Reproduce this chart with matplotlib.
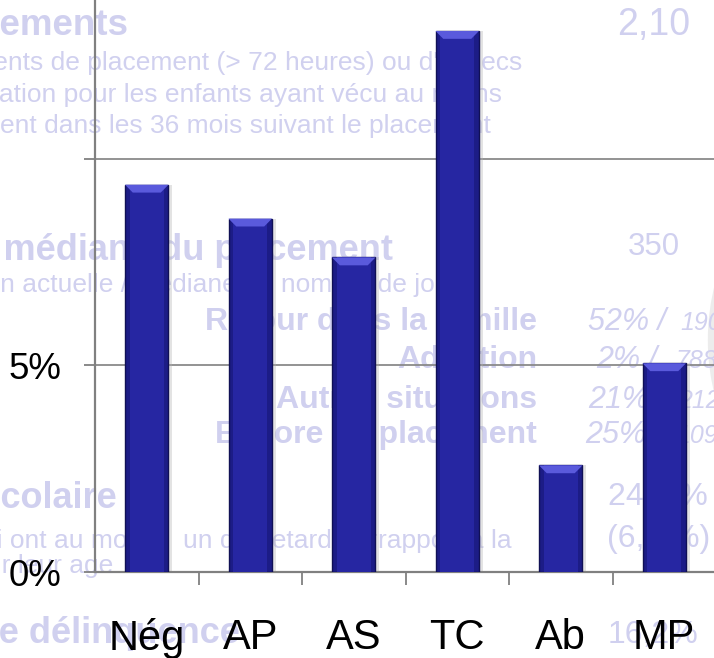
import matplotlib
matplotlib.use("Agg")
import matplotlib.pyplot as plt
from matplotlib.patches import Polygon, Ellipse

plt.rcParams['font.family'] = ['Liberation Sans', 'DejaVu Sans']

categories = ['Nég', 'AP', 'AS', 'TC', 'Ab', 'MP']
values = [9.37, 8.55, 7.61, 13.09, 2.58, 5.05]
y_ticks = [0, 5, 10]
y_tick_labels = ['0%', '5%', '']

W, H = 714, 658
PALE = '#D0D0EF'

# faded text of the slide behind the chart: (x px, baseline px, text, ha, size, weight, style)
back_texts = [
    (129, 35, "Déplacements", 'right', 26.5, 'bold', 'normal'),
    (522, 70, "Nombre moyen d'événements de placement (> 72 heures) ou d'échecs", 'right', 19, 'normal', 'normal'),
    (502, 102, "de réunification pour les enfants ayant vécu au moins", 'right', 19, 'normal', 'normal'),
    (491, 133, "un placement dans les 36 mois suivant le placement", 'right', 19, 'normal', 'normal'),
    (617, 35, "2,10", 'left', 27, 'normal', 'normal'),
    (393, 260, "Durée médiane du placement", 'right', 26, 'bold', 'normal'),
    (628, 255, "350", 'left', 22.5, 'normal', 'normal'),
    (471, 292, "Situation actuelle / médiane du nombre de jours", 'right', 19, 'normal', 'normal'),
    (537, 330, "Retour dans la famille", 'right', 23, 'bold', 'normal'),
    (537, 368, "Adoption", 'right', 23, 'bold', 'normal'),
    (537, 408, "Autres situations", 'right', 23, 'bold', 'normal'),
    (537, 443, "Encore en placement", 'right', 23, 'bold', 'normal'),
    (588, 330, "52% /", 'left', 22, 'normal', 'italic'),
    (680, 330, "190", 'left', 18, 'normal', 'italic'),
    (596, 368, "2% /", 'left', 22, 'normal', 'italic'),
    (675, 368, "788", 'left', 18, 'normal', 'italic'),
    (588, 408, "21% /", 'left', 22, 'normal', 'italic'),
    (678, 408, "212", 'left', 18, 'normal', 'italic'),
    (585, 443, "25% /", 'left', 22, 'normal', 'italic'),
    (676, 443, "1092", 'left', 18, 'normal', 'italic'),
    (117, 508, "Retard scolaire", 'right', 26, 'bold', 'normal'),
    (161, 548, "Enfants qui ont au moins", 'right', 19, 'normal', 'normal'),
    (183, 548, "un de", 'left', 19, 'normal', 'normal'),
    (263, 548, "retard par", 'left', 19, 'normal', 'normal'),
    (512, 548, "rapport à la", 'right', 19, 'normal', 'normal'),
    (113, 573, "normale pour leur age", 'right', 19, 'normal', 'normal'),
    (608, 505, "24,3 %", 'left', 23, 'normal', 'normal'),
    (607, 547, "(6,1 %)", 'left', 23, 'normal', 'normal'),
    (240, 643, "Taux de délinquence", 'right', 26, 'bold', 'normal'),
    (608, 643, "16,2%", 'left', 23, 'normal', 'normal'),
]

fig = plt.figure(figsize=(W / 100, H / 100), dpi=100)
fig.patch.set_facecolor('white')

for x, y, s, ha, size, weight, style in back_texts:
    fig.text(x / W, 1 - y / H, s, ha=ha, va='baseline', fontsize=size,
             fontweight=weight, fontstyle=style, color=PALE, zorder=0)

fig.add_artist(Ellipse((812 / W, 1 - 340 / H), 200 / W, 300 / H, fill=False,
                       edgecolor='#ECECEC', lw=6, zorder=0))

ax = fig.add_axes([95 / W, 86 / H, 621 / W, 572 / H])
ax.set_zorder(1)
ax.patch.set_visible(False)

x = list(range(len(categories)))
bw = 0.42

# soft shadow, bar body, inner lighter body, top bevel
ax.bar([i + 0.035 for i in x], values, width=bw, color='#B0B0B0', alpha=0.35,
       zorder=2, linewidth=0)
ax.bar(x, values, width=bw, color='#1C1C86', edgecolor='#101055', lw=1, zorder=3)
ax.bar(x, values, width=bw * 0.78, color='#2626A2', lw=0, zorder=4)
dx, dy = 0.075, 0.19
for i, v in zip(x, values):
    bevel = Polygon([(i - bw / 2, v), (i + bw / 2, v), (i + bw / 2 - dx, v - dy),
                     (i - bw / 2 + dx, v - dy)], closed=True,
                    facecolor='#5A5ADC', edgecolor='none', zorder=5)
    ax.add_patch(bevel)

ax.set_xlim(-0.5, len(categories) - 0.5)
ax.set_ylim(0, 572 / 41.33)

ax.set_yticks(y_ticks)
ax.set_yticklabels(y_tick_labels)
for t in y_ticks[1:]:
    ax.axhline(t, color='#8A8A8A', lw=1.3, zorder=1)

ax.set_xticks(x)
ax.set_xticklabels(categories)
ax.set_xticks([i + 0.5 for i in x[:-1]], minor=True)
ax.tick_params(axis='x', which='major', length=0, pad=33, labelsize=30)
ax.tick_params(axis='x', which='minor', length=9, width=1.3, color='#808080')
ax.tick_params(axis='y', length=8, width=1.3, color='#808080', pad=16, labelsize=26.5)

for side in ['top', 'right']:
    ax.spines[side].set_visible(False)
for side in ['left', 'bottom']:
    ax.spines[side].set_color('#808080')
    ax.spines[side].set_linewidth(1.6)

fig.savefig('out.png', dpi=100)
